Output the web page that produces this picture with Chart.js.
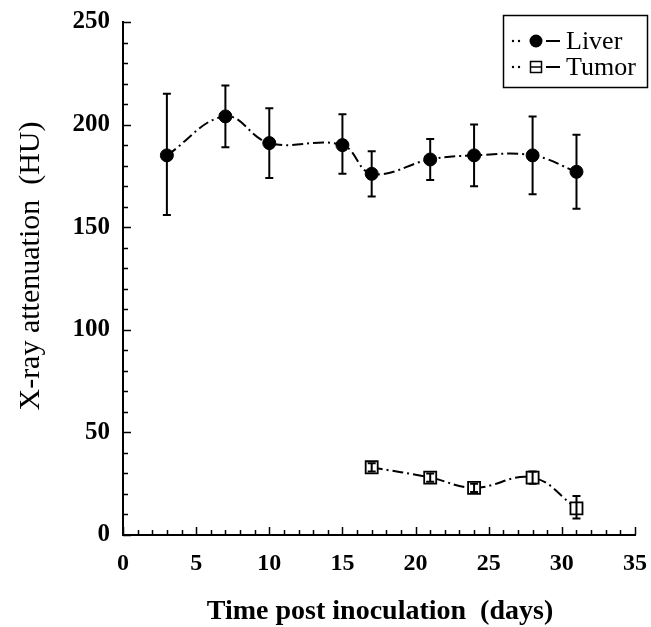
<!DOCTYPE html>
<html>
<head>
<meta charset="utf-8">
<script src="https://cdn.jsdelivr.net/npm/chart.js@4.4.0/dist/chart.umd.min.js"></script>
<style>
    html, body { margin: 0; padding: 0; background: #fff; }
    #wrap { width: 651px; height: 627px; }
</style>
</head>
<body>
<div id="wrap"><canvas id="grafico" width="651" height="627"></canvas></div>
<script>
// dados
const liverDays = [3, 7, 10, 15, 17, 21, 24, 28, 31];
const liverHU = [185, 204, 191, 190, 176, 183, 185, 185, 177];
const liverHigh = [215, 219, 208, 205, 187, 193, 200, 204, 195];
const liverLow = [156, 189, 174, 176, 165, 173, 170, 166, 159];

const tumorDays = [17, 21, 24, 28, 31];
const tumorHU = [33, 28, 23, 28, 13];
const tumorHigh = [35, 30, 25, 31, 19];
const tumorLow = [31, 26, 21, 25, 8];

const xTicks = [0, 5, 10, 15, 20, 25, 30, 35];
const yTicks = [0, 50, 100, 150, 200, 250];
const seriesNames = ['Liver', 'Tumor'];
const xTitle = 'Time post inoculation  (days)';
const yTitle = 'X-ray attenuation  (HU)';

const serif = "'Liberation Serif', 'Times New Roman', serif";

// barras de erro
const errorBars = {
    id: 'errorBars',
    afterDatasetsDraw(chart) {
        const ctx = chart.ctx;
        const x = chart.scales.x, y = chart.scales.y;
        const sets = [[liverDays, liverHigh, liverLow], [tumorDays, tumorHigh, tumorLow]];
        ctx.save();
        ctx.strokeStyle = '#000';
        ctx.lineWidth = 2;
        sets.forEach(([days, hi, lo]) => {
            days.forEach((d, i) => {
                const px = x.getPixelForValue(d);
                const top = y.getPixelForValue(hi[i]);
                const bot = y.getPixelForValue(lo[i]);
                ctx.beginPath();
                ctx.moveTo(px, top); ctx.lineTo(px, bot);
                ctx.moveTo(px - 4, top); ctx.lineTo(px + 4, top);
                ctx.moveTo(px - 4, bot); ctx.lineTo(px + 4, bot);
                ctx.stroke();
            });
        });
        ctx.restore();
    }
};

// ticks para dentro + títulos dos eixos
const insideTicks = {
    id: 'insideTicks',
    afterDraw(chart) {
        const ctx = chart.ctx;
        const x = chart.scales.x, y = chart.scales.y;
        const a = chart.chartArea;
        ctx.save();
        ctx.strokeStyle = '#000';
        ctx.lineWidth = 1.5;
        ctx.beginPath();
        for (let v = 0; v <= 250; v += 10) {
            const py = Math.round(y.getPixelForValue(v)) + 0.5;
            const len = v % 50 === 0 ? 8 : 5;
            ctx.moveTo(a.left, py); ctx.lineTo(a.left + len, py);
        }
        for (let v = 0; v <= 35; v += 1) {
            const px = Math.round(x.getPixelForValue(v)) + 0.5;
            const len = v % 5 === 0 ? 8 : 5;
            ctx.moveTo(px, a.bottom); ctx.lineTo(px, a.bottom - len);
        }
        ctx.stroke();

        ctx.fillStyle = '#000';
        ctx.textAlign = 'center';
        ctx.textBaseline = 'alphabetic';
        ctx.font = `bold 28px ${serif}`;
        ctx.fillText(xTitle, (a.left + a.right) / 2 + 1, 619);

        ctx.translate(39, 266);
        ctx.rotate(-Math.PI / 2);
        ctx.font = `30px ${serif}`;
        ctx.fillText(yTitle, 0, 0);
        ctx.restore();
    }
};

// legenda com caixa
const boxLegend = {
    id: 'boxLegend',
    afterDraw(chart) {
        const ctx = chart.ctx;
        ctx.save();
        ctx.strokeStyle = '#000';
        ctx.fillStyle = '#000';
        ctx.lineWidth = 1.5;
        ctx.strokeRect(503.5, 15.5, 144, 72);
        const rows = [41, 67];
        rows.forEach((ry, i) => {
            [513, 519].forEach(dx => {
                ctx.beginPath(); ctx.arc(dx, ry, 1.2, 0, Math.PI * 2); ctx.fill();
            });
            ctx.lineWidth = 2;
            ctx.beginPath();
            ctx.moveTo(546, ry); ctx.lineTo(560, ry);
            ctx.stroke();
            ctx.lineWidth = 1.5;
            if (i === 0) {
                ctx.beginPath(); ctx.arc(536, ry, 6.5, 0, Math.PI * 2); ctx.fill();
            } else {
                ctx.strokeRect(530.5, ry - 5.5, 11, 11);
                ctx.beginPath(); ctx.moveTo(530, ry); ctx.lineTo(542, ry); ctx.stroke();
            }
            ctx.font = `26px ${serif}`;
            ctx.textBaseline = 'middle';
            ctx.fillText(seriesNames[i], 566, ry + 1);
        });
        ctx.restore();
    }
};

const dash = [11, 4, 2, 4];

new Chart(document.getElementById('grafico').getContext('2d'), {
    type: 'line',
    data: {
        datasets: [{
            label: seriesNames[0],
            data: liverDays.map((d, i) => ({ x: d, y: liverHU[i] })),
            borderColor: '#000',
            borderWidth: 2,
            borderDash: dash,
            tension: 0.4,
            pointStyle: 'circle',
            pointRadius: 6.5,
            pointBorderWidth: 1,
            pointBackgroundColor: '#000',
            pointBorderColor: '#000',
            fill: false
        }, {
            label: seriesNames[1],
            data: tumorDays.map((d, i) => ({ x: d, y: tumorHU[i] })),
            borderColor: '#000',
            borderWidth: 2,
            borderDash: dash,
            tension: 0.4,
            pointStyle: 'rect',
            pointRadius: 8.5,
            pointBorderWidth: 1.8,
            pointBackgroundColor: '#fff',
            pointBorderColor: '#000',
            fill: false
        }]
    },
    options: {
        responsive: false,
        animation: false,
        devicePixelRatio: 1,
        layout: { padding: { top: 22, right: 16, left: 0, bottom: 0 } },
        plugins: {
            legend: { display: false },
            tooltip: { enabled: false }
        },
        scales: {
            x: {
                type: 'linear',
                min: 0,
                max: 35,
                afterBuildTicks: (s) => { s.ticks = xTicks.map(v => ({ value: v })); },
                afterFit: (s) => { s.height = 92; s.paddingLeft = 0; s.paddingRight = 0; },
                grid: { display: false, drawTicks: false },
                border: { display: true, color: '#000', width: 2 },
                ticks: {
                    color: '#000',
                    padding: 14,
                    maxRotation: 0,
                    font: { family: serif, size: 24, weight: 'bold' }
                },
                title: { display: false }
            },
            y: {
                type: 'linear',
                min: 0,
                max: 250,
                afterBuildTicks: (s) => { s.ticks = yTicks.map(v => ({ value: v })); },
                afterFit: (s) => { s.width = 123; s.paddingTop = 0; s.paddingBottom = 0; },
                grid: { display: false, drawTicks: false },
                border: { display: true, color: '#000', width: 2 },
                ticks: {
                    color: '#000',
                    padding: 13,
                    font: { family: serif, size: 25, weight: 'bold' }
                },
                title: { display: false }
            }
        }
    },
    plugins: [errorBars, insideTicks, boxLegend]
});
</script>
</body>
</html>
